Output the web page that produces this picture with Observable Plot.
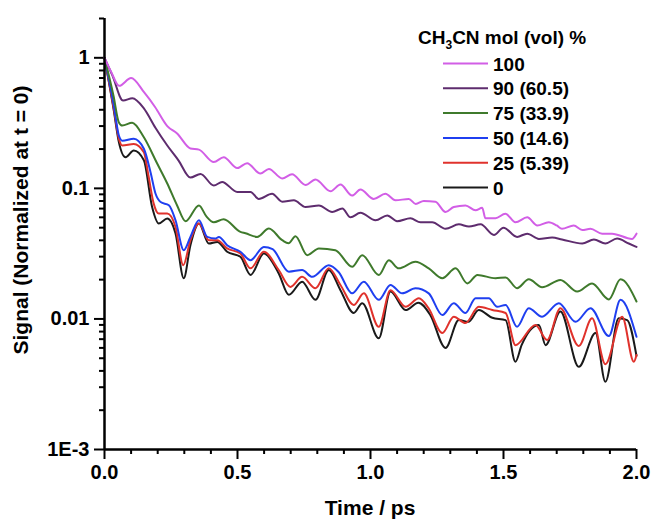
<!DOCTYPE html>
<html>
<head>
<meta charset="utf-8">
<script src="https://cdn.jsdelivr.net/npm/d3@7"></script>
<script src="https://cdn.jsdelivr.net/npm/@observablehq/plot@0.6"></script>
<style>
  body { margin: 0; background: #fff; }
  #chart { position: relative; width: 655px; height: 520px; }
</style>
</head>
<body>
<div id="chart"></div>
<script>
// ---- data ----
const seriesNames = ["100", "90 (60.5)", "75 (33.9)", "50 (14.6)", "25 (5.39)", "0"];
const seriesColors = ["#d25ee6", "#5e2c6e", "#3f7a2c", "#1f3ff0", "#e0322c", "#1a1a1a"];

const s100 = [[0,1],[0.025,0.78],[0.055,0.61],[0.10,0.70],[0.15,0.54],[0.19,0.42],[0.236,0.30],[0.273,0.263],[0.323,0.202],[0.355,0.198],[0.411,0.159],[0.448,0.173],[0.499,0.143],[0.536,0.156],[0.586,0.130],[0.618,0.141],[0.668,0.119],[0.705,0.128],[0.756,0.106],[0.793,0.117],[0.85,0.095],[0.887,0.107],[0.931,0.088],[0.962,0.098],[1.012,0.083],[1.056,0.091],[1.094,0.081],[1.144,0.083],[1.17,0.076],[1.20,0.080],[1.244,0.079],[1.282,0.066],[1.313,0.072],[1.357,0.074],[1.395,0.068],[1.42,0.071],[1.432,0.059],[1.47,0.059],[1.507,0.064],[1.545,0.055],[1.589,0.060],[1.627,0.052],[1.67,0.055],[1.70,0.052],[1.72,0.049],[1.764,0.052],[1.796,0.048],[1.827,0.049],[1.871,0.045],[1.908,0.045],[1.983,0.041],[2.0,0.045]];

const s90 = [[0,1],[0.03,0.73],[0.07,0.47],[0.105,0.49],[0.148,0.41],[0.192,0.29],[0.236,0.213],[0.278,0.164],[0.323,0.121],[0.361,0.129],[0.411,0.105],[0.442,0.112],[0.499,0.094],[0.549,0.094],[0.58,0.083],[0.63,0.091],[0.668,0.079],[0.712,0.081],[0.756,0.072],[0.806,0.074],[0.856,0.066],[0.894,0.070],[0.925,0.060],[0.962,0.065],[1.019,0.057],[1.063,0.062],[1.10,0.056],[1.15,0.059],[1.188,0.055],[1.232,0.055],[1.282,0.049],[1.332,0.053],[1.37,0.051],[1.414,0.053],[1.464,0.044],[1.50,0.050],[1.551,0.0425],[1.589,0.045],[1.633,0.041],[1.683,0.042],[1.72,0.0406],[1.796,0.0378],[1.84,0.0406],[1.883,0.0378],[1.927,0.0413],[1.971,0.0378],[2.0,0.0356]];

const s75 = [[0,1],[0.034,0.51],[0.054,0.32],[0.067,0.303],[0.104,0.318],[0.148,0.246],[0.198,0.155],[0.236,0.109],[0.273,0.074],[0.305,0.056],[0.355,0.074],[0.383,0.061],[0.411,0.055],[0.448,0.058],[0.511,0.0464],[0.53,0.0453],[0.574,0.0425],[0.618,0.0492],[0.668,0.0401],[0.692,0.038],[0.718,0.043],[0.762,0.0308],[0.806,0.0347],[0.868,0.0336],[0.931,0.0251],[0.969,0.0308],[1.031,0.0217],[1.069,0.0282],[1.106,0.0244],[1.169,0.0274],[1.219,0.0244],[1.27,0.0205],[1.32,0.0244],[1.364,0.0187],[1.402,0.0217],[1.47,0.0205],[1.508,0.0208],[1.551,0.0172],[1.595,0.0201],[1.645,0.0175],[1.714,0.0199],[1.777,0.0162],[1.833,0.0187],[1.896,0.0141],[1.94,0.0201],[2.0,0.0136]];

const s50 = [[0,1],[0.035,0.43],[0.054,0.254],[0.067,0.232],[0.110,0.240],[0.148,0.201],[0.173,0.133],[0.192,0.091],[0.211,0.0786],[0.242,0.0742],[0.267,0.057],[0.298,0.0336],[0.323,0.0425],[0.355,0.057],[0.386,0.0425],[0.417,0.0413],[0.43,0.0425],[0.461,0.0367],[0.511,0.0327],[0.549,0.0282],[0.599,0.0356],[0.632,0.0342],[0.693,0.023],[0.743,0.0237],[0.781,0.021],[0.843,0.0258],[0.88,0.0229],[0.931,0.0157],[0.975,0.0193],[1.031,0.014],[1.075,0.0182],[1.119,0.0157],[1.169,0.0172],[1.219,0.0157],[1.27,0.0107],[1.313,0.0132],[1.357,0.0111],[1.395,0.0144],[1.445,0.0144],[1.476,0.0124],[1.508,0.0128],[1.551,0.0087],[1.595,0.0121],[1.645,0.0104],[1.708,0.0132],[1.771,0.0095],[1.827,0.0121],[1.896,0.0074],[1.94,0.014],[2.0,0.0073]];

const s25 = [[0,1],[0.035,0.408],[0.054,0.24],[0.067,0.213],[0.110,0.219],[0.148,0.189],[0.165,0.126],[0.185,0.0764],[0.204,0.0641],[0.236,0.0641],[0.267,0.0506],[0.296,0.0258],[0.323,0.0401],[0.355,0.0538],[0.392,0.0401],[0.424,0.0401],[0.461,0.0347],[0.511,0.0317],[0.549,0.0244],[0.599,0.0327],[0.655,0.0237],[0.699,0.0176],[0.743,0.021],[0.793,0.0172],[0.843,0.0244],[0.887,0.0182],[0.937,0.0128],[0.975,0.0157],[1.031,0.0087],[1.075,0.0166],[1.132,0.0124],[1.182,0.0144],[1.218,0.0121],[1.27,0.0078],[1.313,0.0104],[1.357,0.0093],[1.407,0.0124],[1.458,0.0117],[1.508,0.0111],[1.545,0.0063],[1.62,0.009],[1.664,0.0069],[1.714,0.0121],[1.783,0.0062],[1.833,0.0101],[1.883,0.0045],[1.946,0.0104],[1.99,0.0047],[2.0,0.0053]];

const s0 = [[0,1],[0.035,0.394],[0.054,0.226],[0.079,0.173],[0.110,0.195],[0.148,0.164],[0.179,0.072],[0.204,0.0538],[0.236,0.0587],[0.267,0.0451],[0.298,0.0205],[0.323,0.0367],[0.355,0.0538],[0.392,0.0378],[0.424,0.0389],[0.461,0.0327],[0.511,0.0299],[0.549,0.0217],[0.599,0.0317],[0.655,0.0223],[0.693,0.0153],[0.743,0.0193],[0.793,0.014],[0.843,0.0237],[0.887,0.0166],[0.937,0.0111],[0.969,0.0132],[1.031,0.0071],[1.075,0.0162],[1.132,0.0117],[1.18,0.0133],[1.225,0.0107],[1.282,0.006],[1.332,0.0098],[1.368,0.0095],[1.407,0.0117],[1.458,0.0102],[1.508,0.0098],[1.545,0.0047],[1.568,0.0063],[1.633,0.009],[1.658,0.0063],[1.714,0.0114],[1.783,0.0043],[1.846,0.0078],[1.883,0.0033],[1.933,0.0101],[1.965,0.0098],[2.0,0.0052]];

const xMajorTicks = [0, 0.5, 1.0, 1.5, 2.0];
const xMinorTicks = [0.1,0.2,0.3,0.4,0.6,0.7,0.8,0.9,1.1,1.2,1.3,1.4,1.6,1.7,1.8,1.9];
const yMajorTicks = [0.001, 0.01, 0.1, 1];
const yTickLabels = ["1E-3", "0.01", "0.1", "1"];
const yMinorTicks = [0.002,0.003,0.004,0.005,0.006,0.007,0.008,0.009,0.02,0.03,0.04,0.05,0.06,0.07,0.08,0.09,0.2,0.3,0.4,0.5,0.6,0.7,0.8,0.9,2];

const xTitle = "Time / ps";
const yTitle = "Signal (Normalized at t = 0)";

// ---- build table (draw black first so coloured lines sit on top) ----
const seriesData = [s100, s90, s75, s50, s25, s0];
const table = [];
for (let i = seriesNames.length - 1; i >= 0; i--) {
  seriesData[i].forEach(([t, v]) => table.push({series: seriesNames[i], t, v}));
}

const fontFamily = "'Liberation Sans', Arial, Helvetica, sans-serif";

const plot = Plot.plot({
  width: 655,
  height: 520,
  marginLeft: 104,
  marginRight: 19,
  marginTop: 18,
  marginBottom: 71,
  style: {fontFamily, fontSize: "20px", fontWeight: "bold", color: "#000", background: "#fff", overflow: "visible"},
  x: {domain: [0, 2]},
  y: {type: "log", domain: [0.001, 2]},
  color: {domain: seriesNames, range: seriesColors},
  marks: [
    Plot.axisX({ticks: xMajorTicks, tickFormat: d3.format(".1f"), tickSize: 10, tickPadding: 5, strokeWidth: 2, label: null}),
    Plot.axisX({ticks: xMinorTicks, tickFormat: () => "", tickSize: 5, strokeWidth: 2, label: null}),
    Plot.axisY({ticks: yMajorTicks, tickFormat: d => yTickLabels[yMajorTicks.indexOf(d)], tickSize: 10, tickPadding: 5, strokeWidth: 2, label: null}),
    Plot.axisY({ticks: yMinorTicks, tickFormat: () => "", tickSize: 5, strokeWidth: 2, label: null}),
    Plot.line(table, {x: "t", y: "v", z: "series", stroke: "series", strokeWidth: 2, curve: "monotone-x"}),
    Plot.ruleX([0], {strokeWidth: 2.5}),
    Plot.ruleY([0.001], {strokeWidth: 2.5})
  ]
});

document.getElementById("chart").appendChild(plot);

// ---- axis titles and legend ----
const svg = d3.select(plot);
svg.append("text")
  .attr("transform", "translate(28,220) rotate(-90)")
  .attr("text-anchor", "middle")
  .style("font-size", "21px")
  .style("font-weight", "bold")
  .text(yTitle);
svg.append("text")
  .attr("x", 370).attr("y", 515)
  .attr("text-anchor", "middle")
  .style("font-size", "21px")
  .style("font-weight", "bold")
  .text(xTitle);

const lg = svg.append("g")
  .attr("text-anchor", "start")
  .style("font-size", "19px")
  .style("font-weight", "bold");
const lt = lg.append("text").attr("x", 418).attr("y", 44).attr("text-anchor", "start");
lt.append("tspan").text("CH");
lt.append("tspan").attr("dy", 5).style("font-size", "12px").text("3");
lt.append("tspan").attr("dy", -5).text("CN mol (vol) %");

seriesNames.forEach((name, i) => {
  const cy = 63.5 + i * 24.8;
  lg.append("line").attr("x1", 443).attr("x2", 488).attr("y1", cy).attr("y2", cy)
    .attr("stroke", seriesColors[i]).attr("stroke-width", 2);
  lg.append("text").attr("x", 493).attr("y", cy + 7).attr("text-anchor", "start").text(name);
});
</script>
</body>
</html>
